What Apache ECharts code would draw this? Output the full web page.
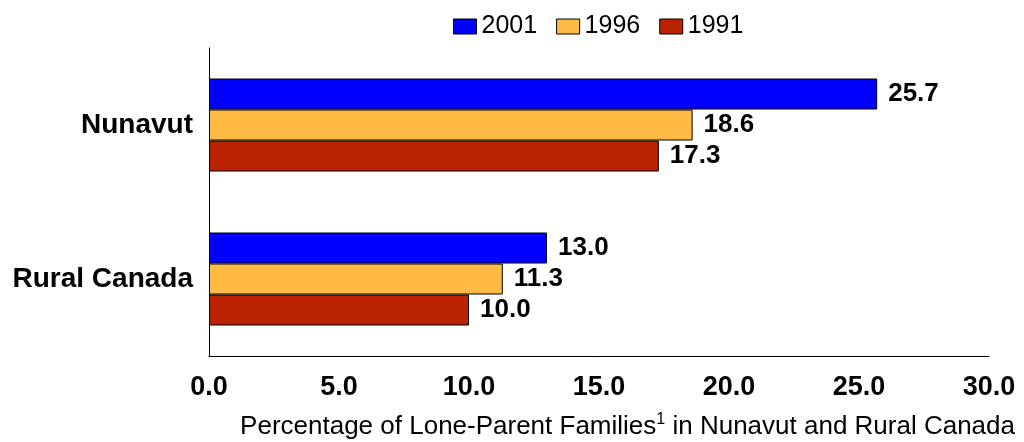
<!DOCTYPE html>
<html>
<head>
<meta charset="utf-8">
<script src="https://cdn.jsdelivr.net/npm/echarts@6/dist/echarts.min.js"></script>
<style>
  html, body { margin: 0; padding: 0; background: #fff; }
  #main { width: 1024px; height: 442px; }
</style>
</head>
<body>
<div id="main"></div>
<script>
// data
var categories = ['Nunavut', 'Rural Canada'];
var years = ['2001', '1996', '1991'];
var values2001 = [25.7, 13.0];
var values1996 = [18.6, 11.3];
var values1991 = [17.3, 10.0];
var xTicks = [0, 5, 10, 15, 20, 25, 30];

var colors = ['#0000ff', '#ffbb44', '#bb2200'];
var allValues = [values2001, values1996, values1991];
var font = 'Liberation Sans, Arial';

var myChart = echarts.init(document.getElementById('main'));

var series = [];
for (var i = 0; i < years.length; i++) {
  series.push({
    name: years[i],
    type: 'bar',
    data: allValues[i],
    barWidth: 31,
    barGap: '0%',
    itemStyle: { color: colors[i], borderColor: '#000', borderWidth: 1 },
    label: {
      show: true,
      position: 'right',
      distance: 11,
      color: '#000',
      fontFamily: font,
      fontWeight: 'bold',
      fontSize: 26,
      formatter: function (p) { return p.value.toFixed(1); }
    }
  });
}

var option = {
  animation: false,
  textStyle: { fontFamily: font },
  legend: {
    data: years,
    top: 9,
    left: 448,
    icon: 'rect',
    itemWidth: 23,
    itemHeight: 15,
    itemGap: 19,
    textStyle: { fontSize: 25, color: '#000' },
    itemStyle: { borderColor: '#000', borderWidth: 1 }
  },
  grid: { left: 209, right: 35, top: 48, bottom: 86 },
  xAxis: {
    type: 'value',
    min: xTicks[0],
    max: xTicks[xTicks.length - 1],
    interval: 5,
    splitLine: { show: false },
    axisTick: { show: false },
    axisLine: { show: true, lineStyle: { color: '#000', width: 1 } },
    axisLabel: {
      margin: 18,
      color: '#000',
      fontWeight: 'bold',
      fontSize: 27,
      formatter: function (v) { return v.toFixed(1); }
    }
  },
  yAxis: {
    type: 'category',
    data: categories,
    inverse: true,
    axisTick: { show: false },
    axisLine: { show: true, lineStyle: { color: '#000', width: 1 } },
    axisLabel: { margin: 16, color: '#000', fontWeight: 'bold', fontSize: 28 }
  },
  graphic: [{
    type: 'text',
    x: 1015,
    y: 427,
    style: {
      text: '{a|Percentage of Lone-Parent Families}{s|1}{a| in Nunavut and Rural Canada}',
      align: 'right',
      verticalAlign: 'middle',
      rich: {
        a: { fontSize: 26, fill: '#000', fontFamily: font },
        s: { fontSize: 16, fill: '#000', fontFamily: font, verticalAlign: 'top', padding: [0, 0, 14, 0] }
      }
    }
  }],
  series: series
};

myChart.setOption(option);
</script>
</body>
</html>
